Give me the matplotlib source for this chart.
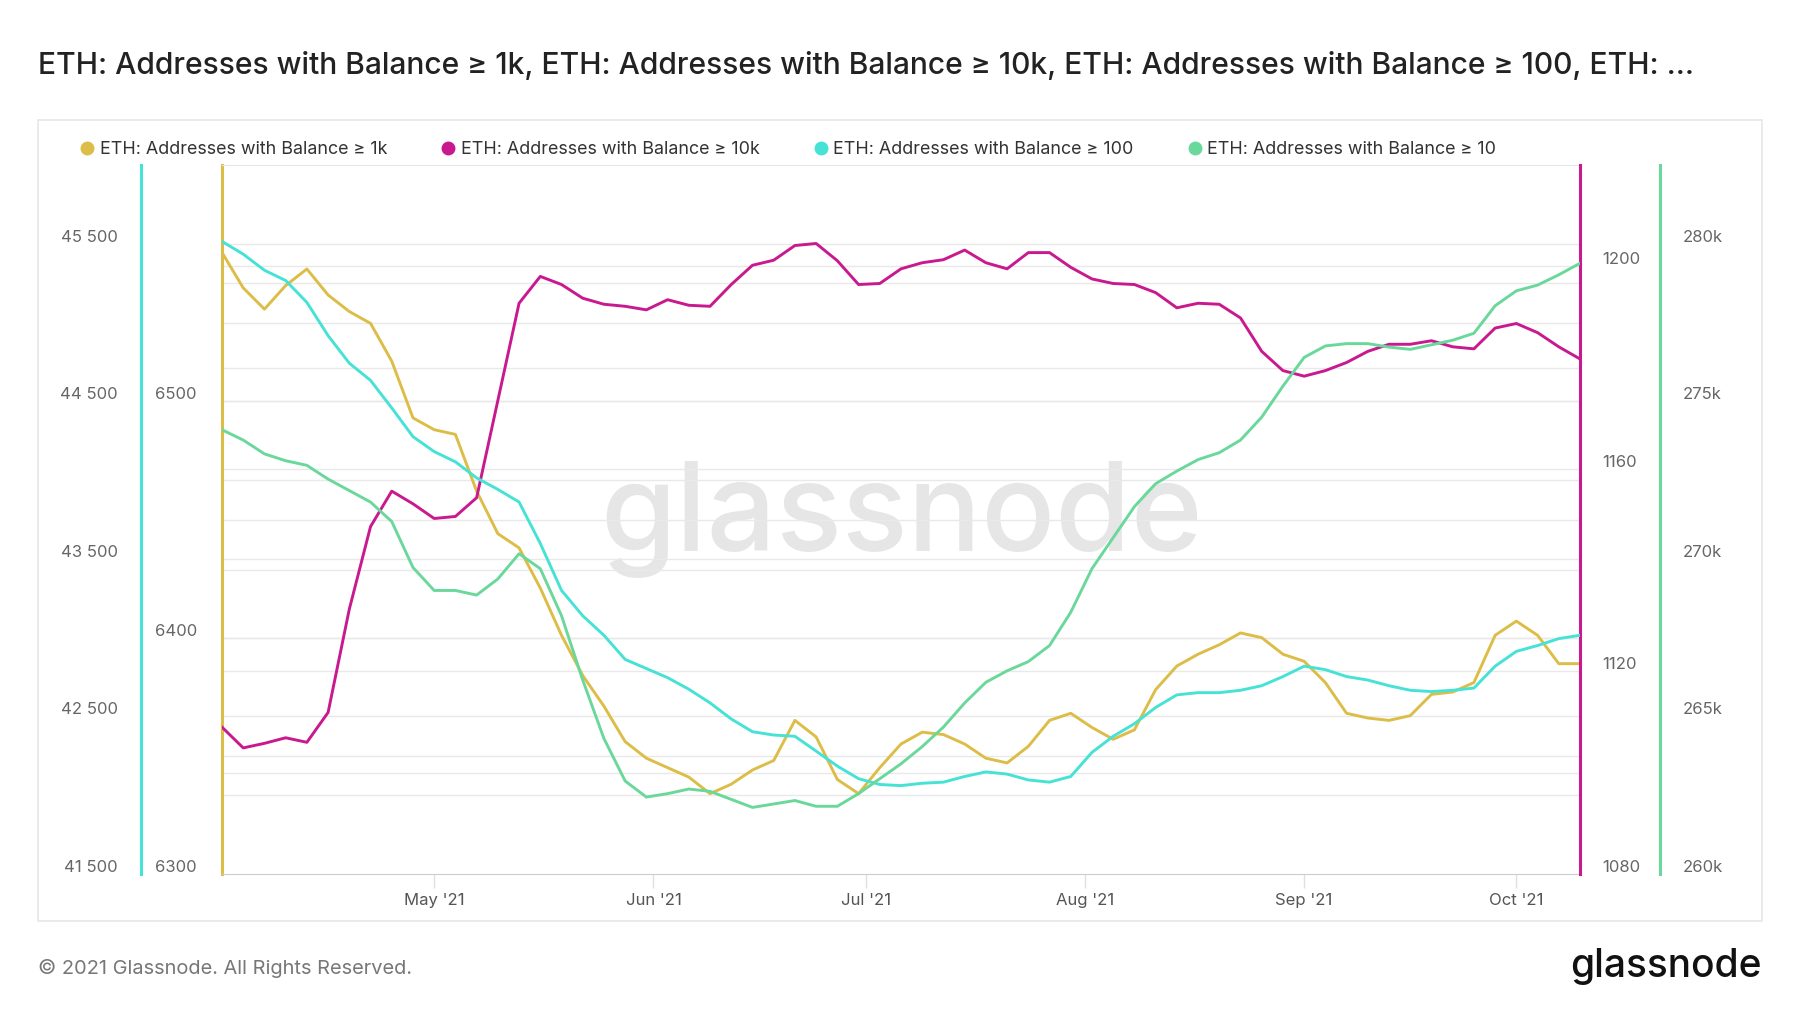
import pandas as pd
import matplotlib.pyplot as plt
import matplotlib.transforms as mtransforms
from matplotlib.lines import Line2D
from matplotlib.patches import Rectangle
from matplotlib.ticker import FixedLocator, FuncFormatter

plt.rcParams['font.family'] = ['Inter', 'DejaVu Sans']

# -------------------------------
# Data (every 3 days from 1 Apr 2021)
# -------------------------------
dates = pd.date_range('2021-04-01', periods=65, freq='3D')

bal_1k = [6563, 6548, 6539, 6549, 6556, 6545, 6538, 6533, 6517, 6493,
          6488, 6486, 6462, 6444, 6438, 6421, 6401, 6384, 6371, 6356,
          6349, 6345, 6341, 6334, 6338, 6344, 6348, 6365, 6358, 6340,
          6334, 6345, 6355, 6360, 6359, 6355, 6349, 6347, 6354, 6365,
          6368, 6362, 6357, 6361, 6378, 6388, 6393, 6397, 6402, 6400,
          6393, 6390, 6381, 6368, 6366, 6365, 6367, 6376, 6377, 6381,
          6401, 6407, 6401, 6389, 6389]

bal_10k = [1109.0, 1104.9, 1105.8, 1106.9, 1106.0, 1111.9, 1132.3, 1148.6, 1155.6, 1153.1,
           1150.2, 1150.6, 1154.3, 1173.5, 1192.7, 1198.0, 1196.4, 1193.7, 1192.5, 1192.1,
           1191.4, 1193.4, 1192.3, 1192.1, 1196.4, 1200.2, 1201.2, 1204.1, 1204.5, 1201.1,
           1196.4, 1196.6, 1199.5, 1200.7, 1201.3, 1203.2, 1200.7, 1199.5, 1202.7, 1202.7,
           1199.8, 1197.5, 1196.6, 1196.4, 1194.8, 1191.8, 1192.7, 1192.5, 1189.8, 1183.2,
           1179.4, 1178.3, 1179.4, 1181.0, 1183.2, 1184.6, 1184.6, 1185.3, 1184.1, 1183.7,
           1187.8, 1188.7, 1186.9, 1184.1, 1181.7]

bal_100 = [45515, 45434, 45332, 45267, 45128, 44917, 44742, 44633, 44458, 44276,
           44181, 44116, 44014, 43941, 43861, 43598, 43300, 43139, 43015, 42862,
           42804, 42746, 42673, 42586, 42484, 42403, 42382, 42374, 42280, 42185,
           42105, 42068, 42061, 42076, 42083, 42119, 42148, 42134, 42097, 42083,
           42119, 42272, 42374, 42454, 42557, 42637, 42651, 42651, 42666, 42695,
           42753, 42819, 42797, 42753, 42731, 42695, 42666, 42658, 42666, 42680,
           42819, 42913, 42950, 42994, 43015]

bal_10 = [274098, 273771, 273333, 273115, 272969, 272532, 272168, 271803, 271184, 269727,
          268998, 268998, 268852, 269363, 270164, 269690, 268197, 266157, 264299, 262951,
          262441, 262550, 262696, 262623, 262368, 262113, 262222, 262332, 262149, 262149,
          262550, 263024, 263497, 264044, 264663, 265428, 266084, 266448, 266740, 267250,
          268306, 269690, 270674, 271658, 272386, 272787, 273151, 273370, 273771, 274499,
          275483, 276394, 276758, 276831, 276831, 276721, 276649, 276794, 276940, 277159,
          278033, 278506, 278689, 279016, 279381]

labels = ['ETH: Addresses with Balance \u2265 1k',
          'ETH: Addresses with Balance \u2265 10k',
          'ETH: Addresses with Balance \u2265 100',
          'ETH: Addresses with Balance \u2265 10']

c_1k, c_10k, c_100, c_10 = '#dcbd47', '#c8198f', '#47e2d6', '#6bd89b'
grid_c = '#e9e9e9'
label_c = '#666666'

W, H = 1800, 1013
fig = plt.figure(figsize=(18, 10.13), dpi=100)


def fx(px):
    return px / W


def fy(py):
    return 1 - py / H


# outer frame
fig.patches.append(Rectangle((fx(38), fy(921)), fx(1762) - fx(38), fy(120) - fy(921),
                             transform=fig.transFigure, fill=False,
                             edgecolor='#e6e6e6', linewidth=1.2))

ax = fig.add_axes([fx(222), fy(874), fx(1580) - fx(222), fy(165) - fy(874)])
ax_m = ax.twinx()
ax_c = ax.twinx()
ax_g = ax.twinx()

ax.set_xlim(dates[0], dates[-1])
ax.set_ylim(6300, 6600)
ax_m.set_ylim(1080, 1220)
ax_c.set_ylim(41500, 46000)
ax_g.set_ylim(260000, 282500)

# watermark
ax.text(0.5, 0.5, 'glassnode', transform=ax.transAxes, ha='center', va='center',
        fontsize=88, color='#e6e6e6', fontweight='medium', zorder=0)

# gridlines for every axis, drawn on the bottom axes so they stay under the lines
grid_sets = [(ax, list(range(6350, 6600, 50))),
             (ax_m, list(range(1100, 1220, 20))),
             (ax_c, list(range(42000, 46000, 500)))]
for a, vals in grid_sets:
    tr = mtransforms.blended_transform_factory(ax.transAxes, a.transData)
    ax.hlines(vals, 0, 1, transform=tr, colors=grid_c, linewidth=1.0, zorder=0.5)

# series
ax.plot(dates, bal_1k, color=c_1k, lw=2.1, zorder=2)
ax_m.plot(dates, bal_10k, color=c_10k, lw=2.1, zorder=2)
ax_c.plot(dates, bal_100, color=c_100, lw=2.1, zorder=2)
ax_g.plot(dates, bal_10, color=c_10, lw=2.1, zorder=2)

# spines
for a in (ax, ax_m, ax_c, ax_g):
    for s in a.spines.values():
        s.set_visible(False)
ax.spines['top'].set_visible(True)
ax.spines['top'].set_color('#e6e6e6')
ax.spines['bottom'].set_visible(True)
ax.spines['bottom'].set_color('#cccccc')
ax.spines['left'].set_visible(True)
ax.spines['left'].set_color(c_1k)
ax.spines['left'].set_linewidth(2.2)

ax_m.spines['right'].set_visible(True)
ax_m.spines['right'].set_color(c_10k)
ax_m.spines['right'].set_linewidth(2.2)

ax_c.yaxis.tick_left()
ax_c.yaxis.set_label_position('left')
ax_c.spines['left'].set_visible(True)
ax_c.spines['left'].set_position(('axes', (141 - 222) / 1358))
ax_c.spines['left'].set_color(c_100)
ax_c.spines['left'].set_linewidth(2.2)

ax_g.spines['right'].set_visible(True)
ax_g.spines['right'].set_position(('axes', (1660 - 222) / 1358))
ax_g.spines['right'].set_color(c_10)
ax_g.spines['right'].set_linewidth(2.2)

# y ticks
ax.yaxis.set_major_locator(FixedLocator([6300, 6400, 6500]))
ax.yaxis.set_major_formatter(FuncFormatter(lambda v, p: f'{v:.0f}'))
ax_m.yaxis.set_major_locator(FixedLocator([1080, 1120, 1160, 1200]))
ax_m.yaxis.set_major_formatter(FuncFormatter(lambda v, p: f'{v:.0f}'))
ax_c.yaxis.set_major_locator(FixedLocator([41500, 42500, 43500, 44500, 45500]))
ax_c.yaxis.set_major_formatter(FuncFormatter(lambda v, p: f'{v:,.0f}'.replace(',', ' ')))
ax_g.yaxis.set_major_locator(FixedLocator([260000, 265000, 270000, 275000, 280000]))
ax_g.yaxis.set_major_formatter(FuncFormatter(lambda v, p: f'{v / 1000:.0f}k'))

for a, pad in ((ax, 18), (ax_c, 16.5), (ax_m, 16), (ax_g, 16.5)):
    a.tick_params(axis='y', length=0, pad=pad, labelsize=12, labelcolor=label_c)

# x ticks
months = pd.date_range('2021-05-01', '2021-10-01', freq='MS')
ax.set_xticks(months)
ax.set_xticklabels([m.strftime("%b '%y") for m in months])
ax.tick_params(axis='x', length=10, width=1, color='#e0e0e0', pad=3.5,
               labelsize=12, labelcolor='#555555')

# shift y labels up a little, as in the original
lift = mtransforms.ScaledTranslation(0, 0.08, fig.dpi_scale_trans)
for a in (ax, ax_m, ax_c, ax_g):
    for t in a.yaxis.get_major_ticks():
        t.label1.set_transform(t.label1.get_transform() + lift)
        t.label2.set_transform(t.label2.get_transform() + lift)

# title, legend, footer
fig.text(fx(38), fy(66), 'ETH: Addresses with Balance \u2265 1k, ETH: Addresses with Balance \u2265 10k, '
         'ETH: Addresses with Balance \u2265 100, ETH: ...',
         ha='left', va='center', fontsize=21.6, color='#222222', fontweight='medium')

handles = [Line2D([], [], marker='o', linestyle='', markersize=9, color=c)
           for c in (c_1k, c_10k, c_100, c_10)]
fig.legend(handles, labels, loc='center left', bbox_to_anchor=(fx(82), fy(150)),
           ncol=4, frameon=False, fontsize=12.9, handlelength=0.6, handletextpad=0.4,
           columnspacing=3.1, borderpad=0, borderaxespad=0, labelcolor='#333333')

fig.text(fx(38), fy(968), '\u00a9 2021 Glassnode. All Rights Reserved.',
         ha='left', va='center', fontsize=14.4, color='#777777')
fig.text(fx(1762), fy(966), 'glassnode', ha='right', va='center',
         fontsize=28, color='#111111', fontweight='medium')

fig.savefig('out.png', dpi=100)
